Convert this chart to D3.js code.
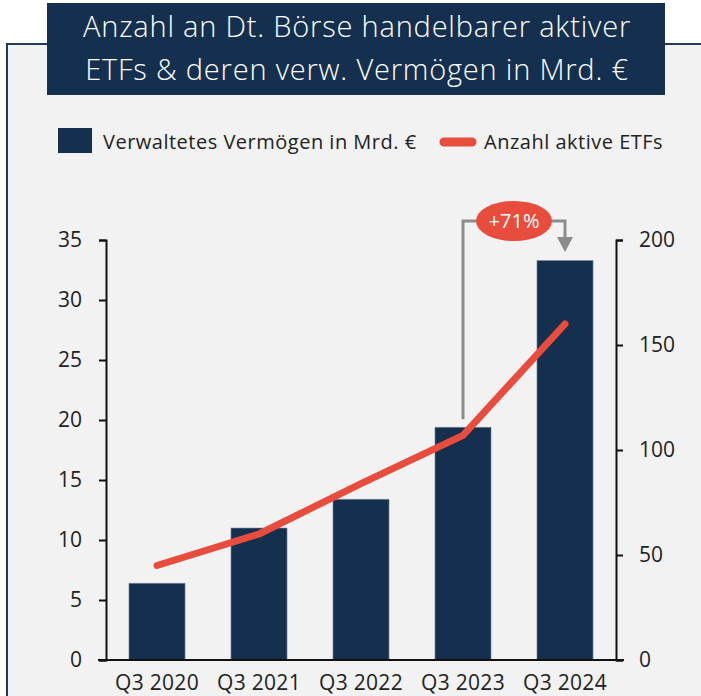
<!DOCTYPE html>
<html>
  <head>
    <meta charset="utf-8">
    <script src="https://d3js.org/d3.v7.min.js"></script>
    <style>
      body { margin: 0; background: #fff; }
      text { font-family: "Open Sans", "Noto Sans", sans-serif; }
    </style>
  </head>
  <body>
    <div id="chart"></div>
    <script>
      var quarters = ["Q3 2020", "Q3 2021", "Q3 2022", "Q3 2023", "Q3 2024"];
      var vermoegen = [6.4, 11.0, 13.4, 19.4, 33.3];
      var anzahlEtfs = [45, 60, 84, 107, 160];
      var leftTicks = [0, 5, 10, 15, 20, 25, 30, 35];
      var rightTicks = [0, 50, 100, 150, 200];
      var titleLines = ["Anzahl an Dt. Börse handelbarer aktiver", "ETFs & deren verw. Vermögen in Mrd. €"];
      var legendLabels = ["Verwaltetes Vermögen in Mrd. €", "Anzahl aktive ETFs"];
      var growthLabel = "+71%";

      var width = 701, height = 696;
      var navy = "#15304e", red = "#e84c3d";

      var svg = d3.select("#chart").append("svg")
        .attr("width", width)
        .attr("height", height);

      // panel
      svg.append("rect")
        .attr("x", 7).attr("y", 44)
        .attr("width", width + 10).attr("height", height)
        .attr("fill", "#f2f2f2")
        .attr("stroke", "#1f3b5c")
        .attr("stroke-width", 2);

      // title box
      svg.append("rect")
        .attr("x", 47).attr("y", 3)
        .attr("width", 618).attr("height", 92)
        .attr("fill", navy);
      svg.selectAll(".title").data(titleLines).enter().append("text")
        .attr("x", 357)
        .attr("y", function(d, i) { return 37 + i * 43; })
        .attr("text-anchor", "middle")
        .attr("fill", "#fff")
        .attr("font-size", 29)
        .attr("font-weight", 300)
        .attr("letter-spacing", 0.8)
        .text(function(d) { return d; });

      // legend
      svg.append("rect").attr("x", 58).attr("y", 128).attr("width", 34).attr("height", 25).attr("fill", navy);
      svg.append("text").attr("x", 103).attr("y", 149).attr("font-size", 20).attr("letter-spacing", 0.5).attr("fill", "#222")
        .text(legendLabels[0]);
      svg.append("line").attr("x1", 444).attr("x2", 472).attr("y1", 142).attr("y2", 142)
        .attr("stroke", red).attr("stroke-width", 9).attr("stroke-linecap", "round");
      svg.append("text").attr("x", 484).attr("y", 149).attr("font-size", 20).attr("letter-spacing", 0.5).attr("fill", "#222")
        .text(legendLabels[1]);

      var x = d3.scaleBand().domain(quarters).range([106, 616]).paddingInner(0.45).paddingOuter(0.225);
      var yL = d3.scaleLinear().domain([0, 35]).range([660, 240]);
      var yR = d3.scaleLinear().domain([0, 200]).range([660, 240]);

      // bars
      svg.selectAll(".bar").data(vermoegen).enter().append("rect")
        .attr("x", function(d, i) { return x(quarters[i]); })
        .attr("y", function(d) { return yL(d); })
        .attr("width", x.bandwidth())
        .attr("height", function(d) { return yL(0) - yL(d); })
        .attr("fill", navy)
        .attr("stroke", "#8797ab")
        .attr("stroke-width", 0.6);

      // axes
      var leftAxis = svg.append("g").attr("transform", "translate(106,0)")
        .call(d3.axisLeft(yL).tickValues(leftTicks).tickSize(7).tickPadding(17));
      var rightAxis = svg.append("g").attr("transform", "translate(616,0)")
        .call(d3.axisRight(yR).tickValues(rightTicks).tickSize(7).tickPadding(16));
      [leftAxis, rightAxis].forEach(function(g) {
        g.select(".domain").attr("stroke", "#111").attr("stroke-width", 2);
        g.selectAll(".tick line").attr("stroke", "#111").attr("stroke-width", 2);
        g.selectAll(".tick text").attr("font-size", 21).attr("fill", "#222")
          .style("font-family", "'Open Sans', 'Noto Sans', sans-serif");
      });
      svg.append("line").attr("x1", 98).attr("x2", 624).attr("y1", 660).attr("y2", 660)
        .attr("stroke", "#111").attr("stroke-width", 2);
      svg.selectAll(".xlab").data(quarters).enter().append("text")
        .attr("x", function(d) { return x(d) + x.bandwidth() / 2; })
        .attr("y", 690)
        .attr("text-anchor", "middle")
        .attr("font-size", 21).attr("letter-spacing", 0.3).attr("fill", "#222")
        .text(function(d) { return d; });

      // line
      var line = d3.line()
        .x(function(d, i) { return x(quarters[i]) + x.bandwidth() / 2; })
        .y(function(d) { return yR(d); });
      svg.append("path").datum(anzahlEtfs)
        .attr("d", line)
        .attr("fill", "none")
        .attr("stroke", red)
        .attr("stroke-width", 7)
        .attr("stroke-linecap", "round")
        .attr("stroke-linejoin", "round");

      // annotation
      var x0 = x(quarters[3]) + x.bandwidth() / 2;
      var x1 = x(quarters[4]) + x.bandwidth() / 2;
      var yTop = 221;
      svg.append("path")
        .attr("d", "M" + x0 + "," + (yL(vermoegen[3]) - 8) + "V" + yTop + "H" + x1 + "V" + 238)
        .attr("fill", "none").attr("stroke", "#8c8c8c").attr("stroke-width", 3);
      svg.append("path")
        .attr("d", "M" + (x1 - 8) + "," + 237 + "L" + (x1 + 8) + "," + 237 + "L" + x1 + "," + 252 + "Z")
        .attr("fill", "#8c8c8c");
      svg.append("ellipse")
        .attr("cx", (x0 + x1) / 2).attr("cy", yTop)
        .attr("rx", 38).attr("ry", 20)
        .attr("fill", red);
      svg.append("text")
        .attr("x", (x0 + x1) / 2).attr("y", yTop + 7)
        .attr("text-anchor", "middle")
        .attr("fill", "#fff").attr("font-size", 20)
        .text(growthLabel);
    </script>
  </body>
</html>
